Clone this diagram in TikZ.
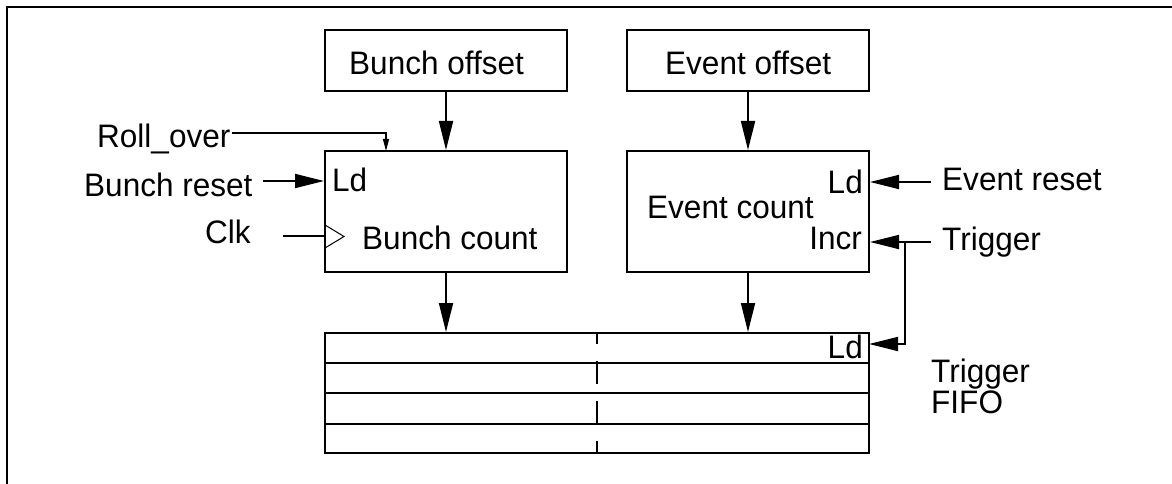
\documentclass[tikz,border=0pt]{standalone}
\usepackage{fontspec}
\setmainfont{Liberation Sans}[FakeStretch=0.97]
\usetikzlibrary{arrows.meta}
\tikzset{
  lbl/.style={inner sep=0pt, font=\fontsize{32.5}{32.5}\selectfont},
  blk/.style={draw, line width=2pt, rectangle, inner sep=0pt},
  wire/.style={line width=1.8pt},
  bigarrow/.style={wire, -{Triangle[length=29pt,width=14pt]}},
  smallarrow/.style={line width=1.2pt, -{Triangle[length=12pt,width=6pt]}},
  frame/.style={line width=2.3pt}
}
\begin{document}
\begin{tikzpicture}[x=1pt,y=-1pt]
\useasboundingbox (0,0) rectangle (1172,484);
% frame (top and left edges only)
\draw[frame] (7,484) -- (7,7) -- (1172,7);

% blocks
\node[blk, minimum width=242pt, minimum height=61pt] (bo) at (446,60.5) {};
\node[blk, minimum width=242pt, minimum height=61pt] (eo) at (748,60.5) {};
\node[blk, minimum width=242pt, minimum height=121pt] (bc) at (446,211.5) {};
\node[blk, minimum width=242pt, minimum height=121pt] (ec) at (748,211.5) {};
\node[blk, minimum width=544pt, minimum height=120pt] (fifo) at (597,393) {};

% FIFO rows and split
\draw[line width=2pt] (325,363) -- (869,363);
\draw[line width=2pt] (325,393) -- (869,393);
\draw[line width=2pt] (325,424) -- (869,424);
\draw[line width=2pt, dash pattern=on 23pt off 17pt, dash phase=12pt] (597,333) -- (597,453);

% labels
\node[lbl, anchor=base west] (tbo) at (349,75) {Bunch offset};
\node[lbl, anchor=base west] (teo) at (665,75) {Event offset};
\node[lbl, anchor=base west] (tbc) at (362,249) {Bunch count};
\node[lbl, anchor=base west] (tec) at (647,218) {Event count};
\node[lbl, anchor=base west] (tbld) at (332,191) {Ld};
\node[lbl, anchor=base east] (teld) at (863,193) {Ld};
\node[lbl, anchor=base east] (tincr) at (862,249) {Incr};
\node[lbl, anchor=base east] (tfld) at (863,358) {Ld};
\node[lbl, anchor=base west] (troll) at (97,147) {Roll\_over};
\node[lbl, anchor=base west] (tbr) at (84,196) {Bunch reset};
\node[lbl, anchor=base west] (tclk) at (205,243) {Clk};
\node[lbl, anchor=base west] (ter) at (942,190) {Event reset};
\node[lbl, anchor=base west] (ttr) at (942,250) {Trigger};
\node[lbl, anchor=base west] (tff1) at (931,382) {Trigger};
\node[lbl, anchor=base west] (tff2) at (931,413) {FIFO};

% connector end points
\coordinate (roA) at (232,133);
\coordinate (roB) at (386,151);
\coordinate (brA) at (263,181);
\coordinate (clkA) at (283,236);
\coordinate (erA) at (931,182);
\coordinate (trA) at (931,242);
\coordinate (trJ) at (905,242);
\coordinate (fifoLd) at (869,344);

% connectors
\draw[bigarrow] (bo.south) -- (bc.north);
\draw[bigarrow] (eo.south) -- (ec.north);
\draw[bigarrow] (bc.south) -- (bc.south |- fifo.north);
\draw[bigarrow] (ec.south) -- (ec.south |- fifo.north);
\draw[smallarrow] (roA) -| (roB);
\draw[bigarrow] (brA) -- (brA -| bc.west);
\draw[wire] (clkA) -- (clkA -| bc.west);
\draw[line width=1pt] (325,225) -- (344,236.5) -- (325,248);
\draw[bigarrow] (erA) -- (erA -| ec.east);
\draw[bigarrow] (trA) -- (trA -| ec.east);
\draw[bigarrow] (trJ) |- (fifoLd);
\end{tikzpicture}
\end{document}
